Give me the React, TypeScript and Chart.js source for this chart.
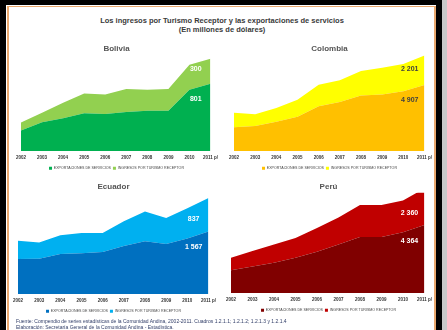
import React, { useEffect, useRef } from "react";
import { Chart, registerables } from "chart.js";

Chart.register(...registerables);
Chart.defaults.font.family = "'Liberation Sans', Arial, sans-serif";

// Años (eje X) y nombres de las series
const years = ["2002", "2003", "2004", "2005", "2006", "2007", "2008", "2009", "2010", "2011 p/"];
const seriesNames = ["EXPORTACIONES DE SERVICIOS", "INGRESOS POR TURISMO RECEPTOR"];

// Millones de dólares
const boliviaServicios = [246, 344, 391, 450, 442, 465, 481, 481, 730, 801];
const boliviaTurismo = [94, 113, 184, 235, 231, 274, 250, 258, 298, 300];

const colombiaServicios = [1774, 1871, 2187, 2551, 3329, 3645, 4131, 4204, 4447, 4907];
const colombiaTurismo = [1069, 875, 1021, 1264, 1604, 1628, 1823, 1993, 2041, 2201];

const ecuadorServicios = [874, 882, 1005, 1021, 1054, 1201, 1324, 1250, 1389, 1567];
const ecuadorTurismo = [458, 409, 466, 507, 474, 621, 743, 654, 760, 837];

const peruServicios = [1463, 1696, 1950, 2268, 2650, 3116, 3604, 3604, 3900, 4364];
const peruTurismo = [806, 996, 1166, 1272, 1526, 1738, 2056, 2056, 2035, 2360];

const fmt = (n: number) => String(n).replace(/\B(?=(\d{3})+(?!\d))/g, " ");

const lerp = (arr: number[], t: number) => {
  const i = Math.floor(t);
  const j = Math.min(arr.length - 1, i + 1);
  return arr[i] + (arr[j] - arr[i]) * (t - i);
};

// Etiquetas con el valor del último año, dibujadas dentro de cada franja
const valueLabels = {
  id: "valueLabels",
  afterDatasetsDraw(chart: any, _args: any, opts: any) {
    const { ctx } = chart;
    const x = chart.scales.x;
    const y = chart.scales.y;
    const d0 = chart.data.datasets[0].data as number[];
    const d1 = chart.data.datasets[1].data as number[];
    const n = d0.length - 1;
    const at = n - 0.7;
    const b = lerp(d0, at);
    const t = b + lerp(d1, at);
    const px = x.getPixelForValue(at);
    const yb = y.getPixelForValue(b);
    const yt = y.getPixelForValue(t);
    ctx.save();
    ctx.font = "bold 7px 'Liberation Sans', Arial, sans-serif";
    ctx.fillStyle = opts.color;
    ctx.textAlign = "center";
    ctx.textBaseline = "middle";
    ctx.fillText(fmt(d1[n]), px, (yb + yt) / 2 + opts.topShift);
    ctx.fillText(fmt(d0[n]), px, yb + 11);
    ctx.restore();
  },
};

type PanelProps = {
  title: string;
  servicios: number[];
  turismo: number[];
  colors: [string, string];
  labelColor: string;
  yMax: number;
  topShift: number;
  box: { left: number; top: number; width: number; height: number };
  pad: { left: number; right: number };
};

function Panel(p: PanelProps) {
  const ref = useRef<HTMLCanvasElement>(null);
  useEffect(() => {
    if (!ref.current) return;
    const chart = new Chart(ref.current, {
      type: "line",
      data: {
        labels: years,
        datasets: [
          {
            label: seriesNames[0],
            data: p.servicios,
            backgroundColor: p.colors[0],
            borderWidth: 0,
            pointRadius: 0,
            fill: "origin",
            clip: false,
          } as any,
          {
            label: seriesNames[1],
            data: p.turismo,
            backgroundColor: p.colors[1],
            borderWidth: 0,
            pointRadius: 0,
            fill: "-1",
            clip: false,
          } as any,
        ],
      },
      options: {
        animation: false,
        responsive: false,
        layout: { padding: { left: p.pad.left, right: p.pad.right, top: 0, bottom: 0 } },
        scales: {
          x: {
            offset: false,
            grid: { display: false, drawTicks: false },
            border: { display: false },
            ticks: {
              autoSkip: false,
              maxRotation: 0,
              padding: 4,
              color: "#333",
              font: { size: 4.5, weight: "bold" },
            },
          },
          y: { display: false, stacked: true, min: 0, max: p.yMax },
        },
        plugins: {
          title: {
            display: true,
            text: p.title,
            color: "#555",
            font: { size: 8, weight: "bold" },
            padding: { top: 2, bottom: 1 },
          },
          legend: {
            position: "bottom",
            labels: {
              boxWidth: 3,
              boxHeight: 3,
              padding: 2,
              color: "#444",
              font: { size: 3.6 },
            },
          },
          tooltip: { enabled: false },
          valueLabels: { color: p.labelColor, topShift: p.topShift },
        } as any,
      },
      plugins: [valueLabels],
    });
    return () => chart.destroy();
  }, []);
  return (
    <canvas
      ref={ref}
      width={p.box.width}
      height={p.box.height}
      style={{ position: "absolute", left: p.box.left, top: p.box.top, width: p.box.width, height: p.box.height }}
    />
  );
}

export default function App() {
  const font = "'Liberation Sans', Arial, sans-serif";
  return (
    <div style={{ position: "fixed", left: 0, top: 0, width: 447, height: 330, background: "#fff", overflow: "hidden" }}>
      {/* marco */}
      <div style={{ position: "absolute", left: 0, top: 0, width: 6, height: 330, background: "#000" }} />
      <div style={{ position: "absolute", left: 0, top: 0, width: 442, height: 4.5, background: "#000" }} />
      <div style={{ position: "absolute", left: 436, top: 0, width: 6, height: 330, background: "#000" }} />
      <div style={{ position: "absolute", left: 442, top: 0, width: 5, height: 330, background: "#c8c8c8" }} />
      <div style={{ position: "absolute", left: 7, top: 5.5, width: 1.5, height: 330, background: "#e9a86e" }} />
      <div style={{ position: "absolute", left: 7, top: 5.5, width: 428.5, height: 1.5, background: "#e9a86e" }} />
      <div style={{ position: "absolute", left: 434, top: 5.5, width: 1.5, height: 330, background: "#e9a86e" }} />

      <div
        style={{
          position: "absolute",
          left: 0,
          width: 444,
          top: 16,
          textAlign: "center",
          fontFamily: font,
          fontSize: 7.5,
          lineHeight: "9px",
          fontWeight: "bold",
          color: "#3a3a3a",
        }}
      >
        Los ingresos por Turismo Receptor y las exportaciones de servicios
        <br />
        (En millones de dólares)
      </div>

      <Panel
        title="Bolivia"
        servicios={boliviaServicios}
        turismo={boliviaTurismo}
        colors={["#00b050", "#92d050"]}
        labelColor="#ffffff"
        yMax={1150}
        topShift={-6}
        box={{ left: 10, top: 42, width: 212, height: 138 }}
        pad={{ left: 11, right: 10 }}
      />
      <Panel
        title="Colombia"
        servicios={colombiaServicios}
        turismo={colombiaTurismo}
        colors={["#ffc000", "#ffff00"]}
        labelColor="#404040"
        yMax={7180}
        topShift={-6}
        box={{ left: 224, top: 42, width: 212, height: 138 }}
        pad={{ left: 10, right: 11 }}
      />
      <Panel
        title="Ecuador"
        servicios={ecuadorServicios}
        turismo={ecuadorTurismo}
        colors={["#0070c0", "#00b0f0"]}
        labelColor="#ffffff"
        yMax={2540}
        topShift={-2}
        box={{ left: 8, top: 180, width: 212, height: 143 }}
        pad={{ left: 10, right: 11 }}
      />
      <Panel
        title="Perú"
        servicios={peruServicios}
        turismo={peruTurismo}
        colors={["#800000", "#c00000"]}
        labelColor="#ffffff"
        yMax={6450}
        topShift={0}
        box={{ left: 221, top: 180, width: 215, height: 142 }}
        pad={{ left: 10, right: 10 }}
      />

      <div
        style={{
          position: "absolute",
          left: 16,
          top: 318,
          fontFamily: font,
          fontSize: 5,
          lineHeight: "6px",
          color: "#34406a",
          whiteSpace: "nowrap",
        }}
      >
        Fuente: Compendio de series estadísticas de la Comunidad Andina, 2002-2011. Cuadros 1.2.1.1; 1.2.1.2; 1.2.1.3 y 1.2.1.4
        <br />
        Elaboración: Secretaría General de la Comunidad Andina - Estadística.
      </div>
    </div>
  );
}
